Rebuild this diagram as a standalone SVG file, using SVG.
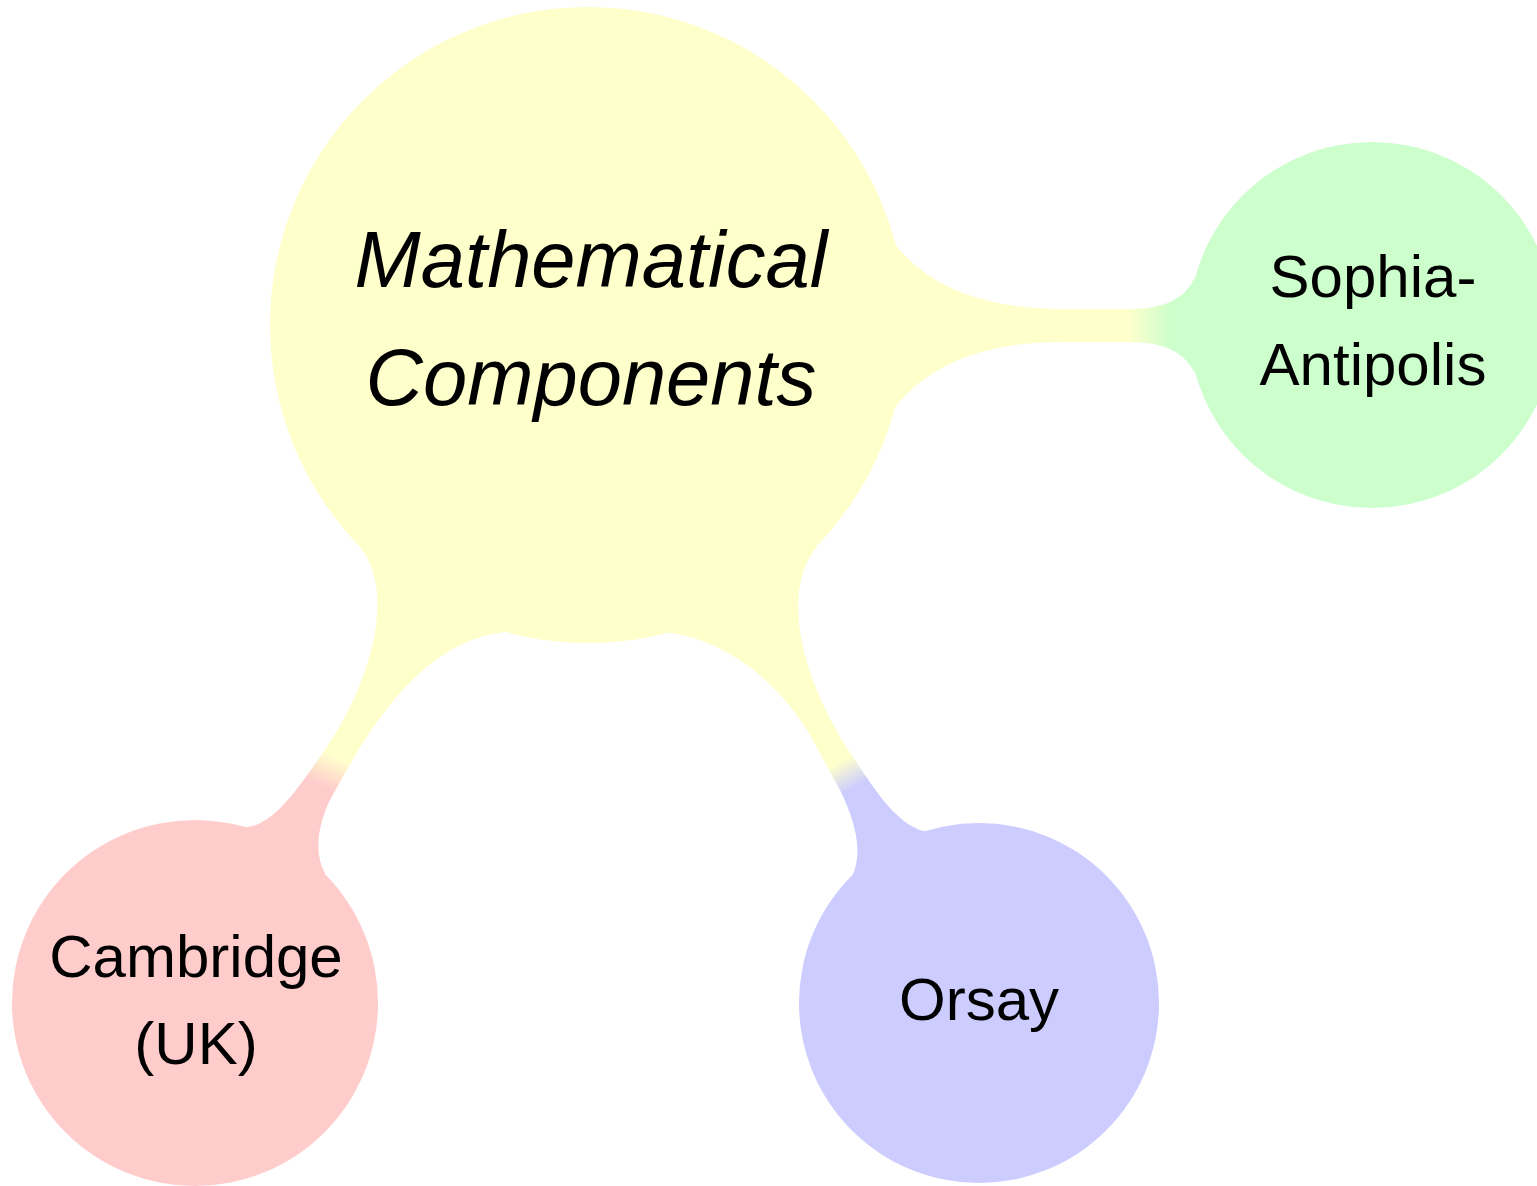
<svg xmlns="http://www.w3.org/2000/svg" width="1537" height="1186" viewBox="0 0 1537 1186">
  <style>
    .lbl { font-family: "Liberation Sans", Arial, sans-serif; font-size: 60px; fill: #000; text-anchor: middle; }
    .main { font-family: "Liberation Sans", Arial, sans-serif; font-size: 79.5px; font-style: italic; fill: #000; text-anchor: middle; }
  </style>
  <defs>
    <linearGradient id="gS" gradientUnits="userSpaceOnUse" x1="1128" y1="0" x2="1172" y2="0">
      <stop offset="0" stop-color="#ffffcc"/>
      <stop offset="1" stop-color="#ccffcc"/>
    </linearGradient>
    <linearGradient id="gC" gradientUnits="userSpaceOnUse" x1="337" y1="757" x2="323" y2="787">
      <stop offset="0" stop-color="#ffffcc"/>
      <stop offset="1" stop-color="#ffcccc"/>
    </linearGradient>
    <linearGradient id="gO" gradientUnits="userSpaceOnUse" x1="840" y1="762" x2="854" y2="788">
      <stop offset="0" stop-color="#ffffcc"/>
      <stop offset="1" stop-color="#ccccff"/>
    </linearGradient>
  </defs>
  <rect width="1537" height="1186" fill="#ffffff"/>
  <g id="connectors">
    <path id="c-sophia" fill="url(#gS)" d="M 893,242 C 930,290 990,309 1063,309 L 1130,309 C 1165,309 1185,298 1194,279 L 1372,325 L 1194,372 C 1185,353 1165,342 1130,342 L 1063,342 C 990,342 930,361 893,410 L 588,325 Z"/>
    <path id="c-cambridge" fill="url(#gC)" d="M 360,547 C 395,590 375,680 320,757 C 302,782 275,825 247,827 L 195,1003 L 325,873 C 315,855 316,830 330,800 L 345,773 C 380,712 430,640 505,632 L 588,325 Z"/>
    <path id="c-orsay" fill="url(#gO)" d="M 817,547 C 780,590 800,680 855,760 C 875,790 900,830 930,832 L 979,1003 L 850,880 C 862,860 860,830 840,790 L 810,735 C 780,685 730,640 665,632 L 588,325 Z"/>
  </g>
  <g id="node-main">
    <circle cx="588" cy="325" r="318" fill="#ffffcc"/>
    <text class="main" x="591" y="287">Mathematical</text>
    <text class="main" x="591" y="405">Components</text>
  </g>
  <g id="node-sophia">
    <circle cx="1372" cy="325" r="183" fill="#ccffcc"/>
    <text class="lbl" x="1373" y="297">Sophia-</text>
    <text class="lbl" x="1373" y="385">Antipolis</text>
  </g>
  <g id="node-cambridge">
    <circle cx="195" cy="1003" r="183" fill="#ffcccc"/>
    <text class="lbl" x="196" y="977">Cambridge</text>
    <text class="lbl" x="196" y="1064">(UK)</text>
  </g>
  <g id="node-orsay">
    <circle cx="979" cy="1003" r="180" fill="#ccccff"/>
    <text class="lbl" x="979" y="1020">Orsay</text>
  </g>
</svg>
